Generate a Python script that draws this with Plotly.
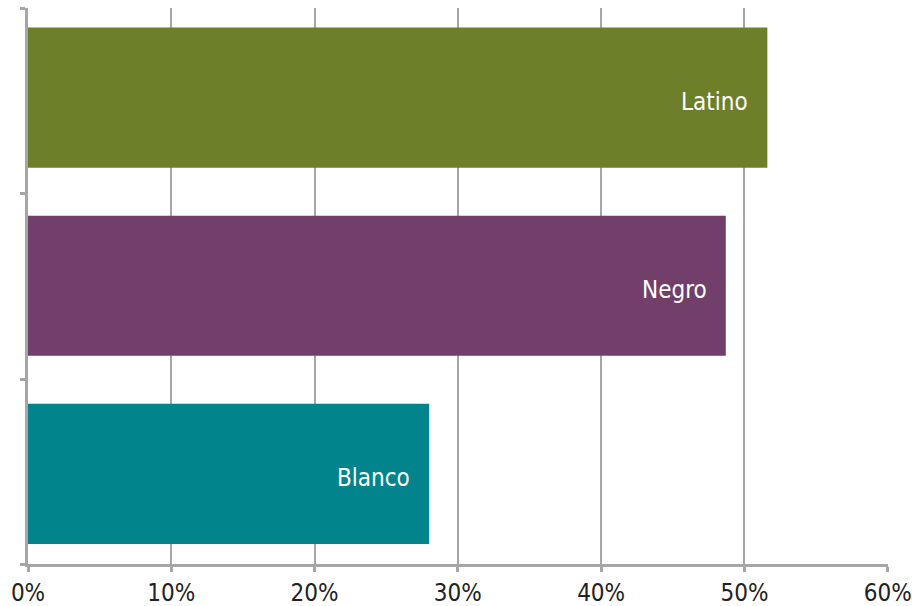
import plotly.graph_objects as go

categories = ["Blanco", "Negro", "Latino"]
values = [28.0, 48.7, 51.6]
colors = ["#01848b", "#723f6b", "#6e7f2a"]
tick_vals = [0, 10, 20, 30, 40, 50, 60]
tick_text = ["0%", "10%", "20%", "30%", "40%", "50%", "60%"]

FONT = "DejaVu Sans Condensed, Arial Narrow, Liberation Sans Narrow, Roboto, sans-serif"
GREY = "#a6a6a6"

pos = list(range(len(categories)))

fig = go.Figure()
fig.add_trace(go.Bar(
    y=pos, x=values, orientation="h", width=0.745,
    marker=dict(color=colors, line=dict(width=0)),
    hoverinfo="skip",
))
for p, c, v in zip(pos, categories, values):
    fig.add_annotation(x=v, y=p, text=c, showarrow=False, xanchor="right",
                       xshift=-17, yshift=-4,
                       font=dict(family=FONT, size=24, color="#ffffff"))

fig.update_layout(
    width=912, height=606,
    margin=dict(l=28, r=24, t=8, b=42, autoexpand=False),
    paper_bgcolor="white", plot_bgcolor="white",
    showlegend=False,
    font=dict(family=FONT, size=24, color="#222222"),
)
fig.update_xaxes(
    range=[0, 60.02], tickvals=tick_vals, ticktext=tick_text,
    showgrid=True, gridcolor=GREY, gridwidth=2,
    showline=True, linecolor=GREY, linewidth=2.5,
    ticks="outside", ticklen=5, tickcolor=GREY, tickwidth=2.5,
    zeroline=False, fixedrange=True, automargin=False,
    tickfont=dict(family=FONT, size=24, color="#222222"),
)
fig.update_yaxes(
    range=[-0.479, 2.476], tickvals=[-0.479, 0.5, 1.49, 2.475],
    showticklabels=False, showgrid=False, zeroline=False,
    showline=True, linecolor=GREY, linewidth=2.5,
    ticks="outside", ticklen=5, tickcolor=GREY, tickwidth=2.5,
    fixedrange=True, automargin=False,
)
fig.write_html("out.html")
